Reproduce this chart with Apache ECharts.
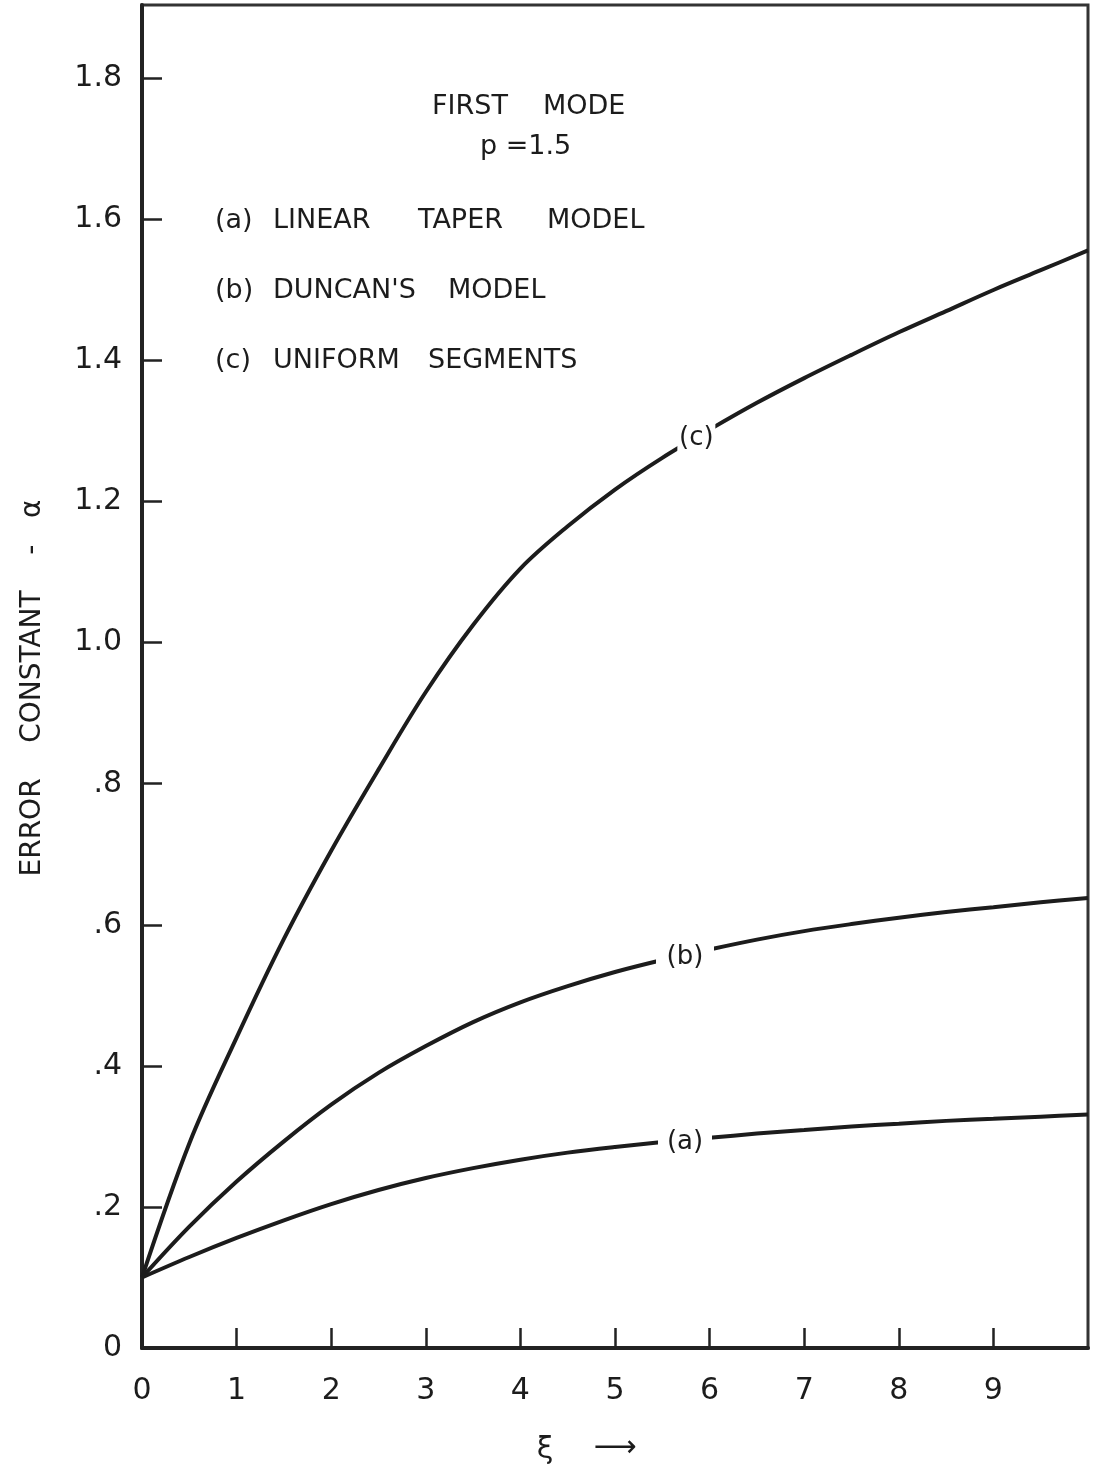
<!DOCTYPE html>
<html>
<head>
<meta charset="utf-8">
<script src="https://cdn.jsdelivr.net/npm/echarts@6/dist/echarts.min.js"></script>
<style>
  html, body { margin: 0; padding: 0; background: #fff; }
  #chart { width: 1095px; height: 1474px; }
</style>
</head>
<body>
<div id="chart"></div>
<script>
// xi values
var xi = [0, 0.5, 1, 1.5, 2, 2.5, 3, 3.5, 4, 4.5, 5, 5.5, 6, 6.5, 7, 7.5, 8, 8.5, 9, 9.5, 10];

// (a) linear taper model
var curveA = [0.10, 0.129, 0.156, 0.181, 0.204, 0.224, 0.241, 0.255, 0.267, 0.277, 0.285, 0.292, 0.298, 0.304, 0.309, 0.314, 0.318, 0.322, 0.325, 0.328, 0.331];
// (b) Duncan's model
var curveB = [0.10, 0.172, 0.236, 0.293, 0.345, 0.39, 0.428, 0.462, 0.49, 0.513, 0.533, 0.55, 0.565, 0.579, 0.591, 0.601, 0.61, 0.618, 0.625, 0.632, 0.638];
// (c) uniform segments
var curveC = [0.10, 0.29, 0.44, 0.58, 0.705, 0.82, 0.93, 1.025, 1.105, 1.165, 1.217, 1.262, 1.302, 1.34, 1.375, 1.408, 1.44, 1.47, 1.50, 1.528, 1.556];

// where the curve tags sit
var tagA = [5.74, 0.292];
var tagB = [5.74, 0.554];
var tagC = [5.86, 1.29];

var xTickLabels = ['0', '1', '2', '3', '4', '5', '6', '7', '8', '9'];
var yTickLabels = ['0', '.2', '.4', '.6', '.8', '1.0', '1.2', '1.4', '1.6', '1.8'];

var ink = '#1c1c1c';
var font = 'DejaVu Sans';

function pairs(ys) {
	var out = [];
	for (var i = 0; i < xi.length; i++) out.push([xi[i], ys[i]]);
	return out;
}

function curve(name, ys, tag, tagText, boxSize) {
	return {
		name: name,
		type: 'line',
		smooth: 0.35,
		symbol: 'none',
		lineStyle: { color: ink, width: 4 },
		data: pairs(ys),
		markPoint: {
			symbol: 'rect',
			symbolSize: boxSize,
			itemStyle: { color: '#fff' },
			label: {
				show: true,
				position: 'inside',
				formatter: tagText,
				color: ink,
				fontFamily: font,
				fontSize: 26
			},
			data: [{ coord: tag }]
		}
	};
}

var myChart = echarts.init(document.getElementById('chart'));

// notes drawn in the plot
var notes = [
	['FIRST', 432, 108], ['MODE', 543, 108],
	['p =1.5', 480, 148],
	['(a)', 215, 222], ['LINEAR', 273, 222], ['TAPER', 418, 222], ['MODEL', 547, 222],
	['(b)', 215, 292], ["DUNCAN'S", 273, 292], ['MODEL', 448, 292],
	['(c)', 215, 362], ['UNIFORM', 273, 362], ['SEGMENTS', 428, 362]
];
var graphics = notes.map(function (n) {
	return {
		type: 'text',
		left: n[1],
		top: n[2] - 15,
		style: { text: n[0], fill: ink, font: '27px "' + font + '"' }
	};
});
graphics.push({
	type: 'text',
	x: 33,
	y: 688,
	rotation: Math.PI / 2,
	style: {
		text: 'ERROR    CONSTANT    -   α',
		fill: ink,
		font: '28px "' + font + '"',
		align: 'center',
		verticalAlign: 'middle'
	}
});
graphics.push({
	type: 'text',
	x: 545,
	y: 1450,
	style: { text: 'ξ', fill: ink, font: '30px "' + font + '"', align: 'center', verticalAlign: 'middle' }
});
graphics.push({
	type: 'text',
	x: 615,
	y: 1448,
	style: { text: '⟶', fill: ink, font: '30px "' + font + '"', align: 'center', verticalAlign: 'middle' }
});

var option = {
	backgroundColor: '#fff',
	animation: false,
	grid: {
		left: 142,
		right: 7,
		top: 5,
		bottom: 126,
		show: true,
		borderColor: '#333',
		borderWidth: 3
	},
	xAxis: {
		type: 'value',
		min: 0,
		max: 10,
		interval: 1,
		splitLine: { show: false },
		axisLine: { lineStyle: { color: '#222', width: 4 } },
		axisTick: { inside: true, length: 20, lineStyle: { color: '#222', width: 2.5 } },
		axisLabel: {
			margin: 28,
			color: ink,
			fontFamily: font,
			fontSize: 30,
			showMaxLabel: false,
			formatter: function (v) {
				var i = Math.round(v);
				return xTickLabels[i] !== undefined ? xTickLabels[i] : '';
			}
		}
	},
	yAxis: {
		type: 'value',
		min: 0,
		max: 1.904,
		interval: 0.2,
		splitLine: { show: false },
		axisLine: { lineStyle: { color: '#222', width: 4 } },
		axisTick: { inside: true, length: 20, lineStyle: { color: '#222', width: 2.5 } },
		axisLabel: {
			margin: 20,
			color: ink,
			fontFamily: font,
			fontSize: 30,
			showMaxLabel: false,
			formatter: function (v) {
				var i = Math.round(v / 0.2);
				if (Math.abs(v - i * 0.2) > 1e-6) return '';
				return yTickLabels[i] !== undefined ? yTickLabels[i] : '';
			}
		}
	},
	graphic: graphics,
	series: [
		curve('(a)', curveA, tagA, '(a)', [54, 28]),
		curve('(b)', curveB, tagB, '(b)', [58, 32]),
		curve('(c)', curveC, tagC, '(c)', [38, 36])
	]
};
myChart.setOption(option);
</script>
</body>
</html>
